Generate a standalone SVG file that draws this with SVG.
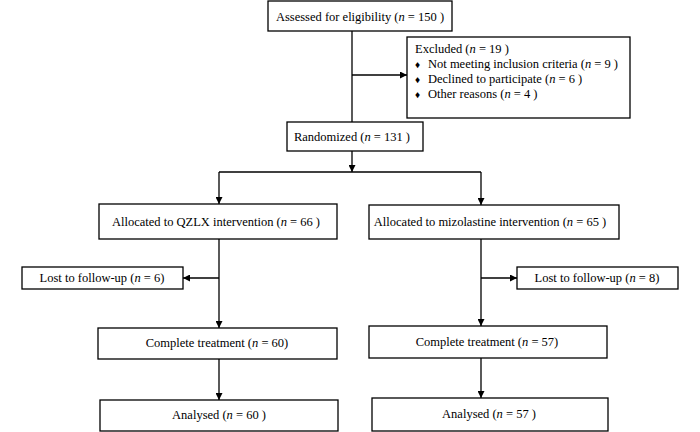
<svg xmlns="http://www.w3.org/2000/svg" width="700" height="432" viewBox="0 0 700 432">
<defs>
<marker id="arr" viewBox="0 0 10 10" refX="10" refY="5" markerWidth="7" markerHeight="7" markerUnits="userSpaceOnUse" orient="auto">
<path d="M0,0 L10,5 L0,10 z" fill="#000"/>
</marker>
<style>
rect{fill:#fff;stroke:#000;stroke-width:1.3}
text{font-family:"Liberation Serif","Times New Roman",serif;font-size:12.5px;fill:#000}
.c{text-anchor:middle}
.b{font-size:10px}
.l{fill:none;stroke:#000;stroke-width:1.3}
.a{marker-end:url(#arr)}
</style>
</defs>
<rect width="700" height="432" style="fill:#fff;stroke:none"/>
<g id="connectors">
<path class="l" d="M352,31 V122"/>
<path class="l a" d="M352,75 H407"/>
<path class="l a" d="M352,151 V172"/>
<path class="l" d="M219,172 H481"/>
<path class="l a" d="M219,172 V204"/>
<path class="l a" d="M481,172 V205"/>
<path class="l a" d="M219,239 V328"/>
<path class="l a" d="M219,278 H183"/>
<path class="l a" d="M481,239 V326"/>
<path class="l a" d="M481,278 H517"/>
<path class="l a" d="M219,359 V400"/>
<path class="l a" d="M481,358 V398"/>
</g>
<g id="assessed">
<rect x="268" y="1" width="184" height="30"/>
<text class="c" x="360" y="21">Assessed for eligibility (<tspan font-style="italic">n</tspan> = 150 )</text>
</g>
<g id="excluded">
<rect x="407" y="37" width="223" height="81"/>
<text x="415" y="53">Excluded (<tspan font-style="italic">n</tspan> = 19 )</text>
<text class="b" x="415" y="67.5">♦</text>
<text x="428" y="68">Not meeting inclusion criteria (<tspan font-style="italic">n</tspan> = 9 )</text>
<text class="b" x="415" y="82.5">♦</text>
<text x="428" y="83">Declined to participate (<tspan font-style="italic">n</tspan> = 6 )</text>
<text class="b" x="415" y="97.5">♦</text>
<text x="428" y="98">Other reasons (<tspan font-style="italic">n</tspan> = 4 )</text>
</g>
<g id="randomized">
<rect x="287" y="122" width="136" height="29"/>
<text class="c" x="352" y="141">Randomized (<tspan font-style="italic">n</tspan> = 131 )</text>
</g>
<g id="alloc-qzlx">
<rect x="99" y="204" width="238" height="35"/>
<text class="c" x="216" y="226">Allocated to QZLX intervention (<tspan font-style="italic">n</tspan> = 66 )</text>
</g>
<g id="alloc-miz">
<rect x="369" y="205" width="250" height="34"/>
<text class="c" x="490" y="226">Allocated to mizolastine intervention (<tspan font-style="italic">n</tspan> = 65 )</text>
</g>
<g id="lost-left">
<rect x="22" y="267" width="161" height="22"/>
<text class="c" x="102" y="282">Lost to follow-up (<tspan font-style="italic">n</tspan> = 6)</text>
</g>
<g id="lost-right">
<rect x="517" y="267" width="161" height="22"/>
<text class="c" x="597" y="282">Lost to follow-up (<tspan font-style="italic">n</tspan> = 8)</text>
</g>
<g id="complete-left">
<rect x="98" y="328" width="239" height="31"/>
<text class="c" x="217" y="347">Complete treatment (<tspan font-style="italic">n</tspan> = 60)</text>
</g>
<g id="complete-right">
<rect x="369" y="326" width="238" height="32"/>
<text class="c" x="487" y="346">Complete treatment (<tspan font-style="italic">n</tspan> = 57)</text>
</g>
<g id="analysed-left">
<rect x="100" y="400" width="238" height="31"/>
<text class="c" x="219" y="419">Analysed (<tspan font-style="italic">n</tspan> = 60 )</text>
</g>
<g id="analysed-right">
<rect x="372" y="398" width="236" height="33"/>
<text class="c" x="489" y="418">Analysed (<tspan font-style="italic">n</tspan> = 57 )</text>
</g>
</svg>
